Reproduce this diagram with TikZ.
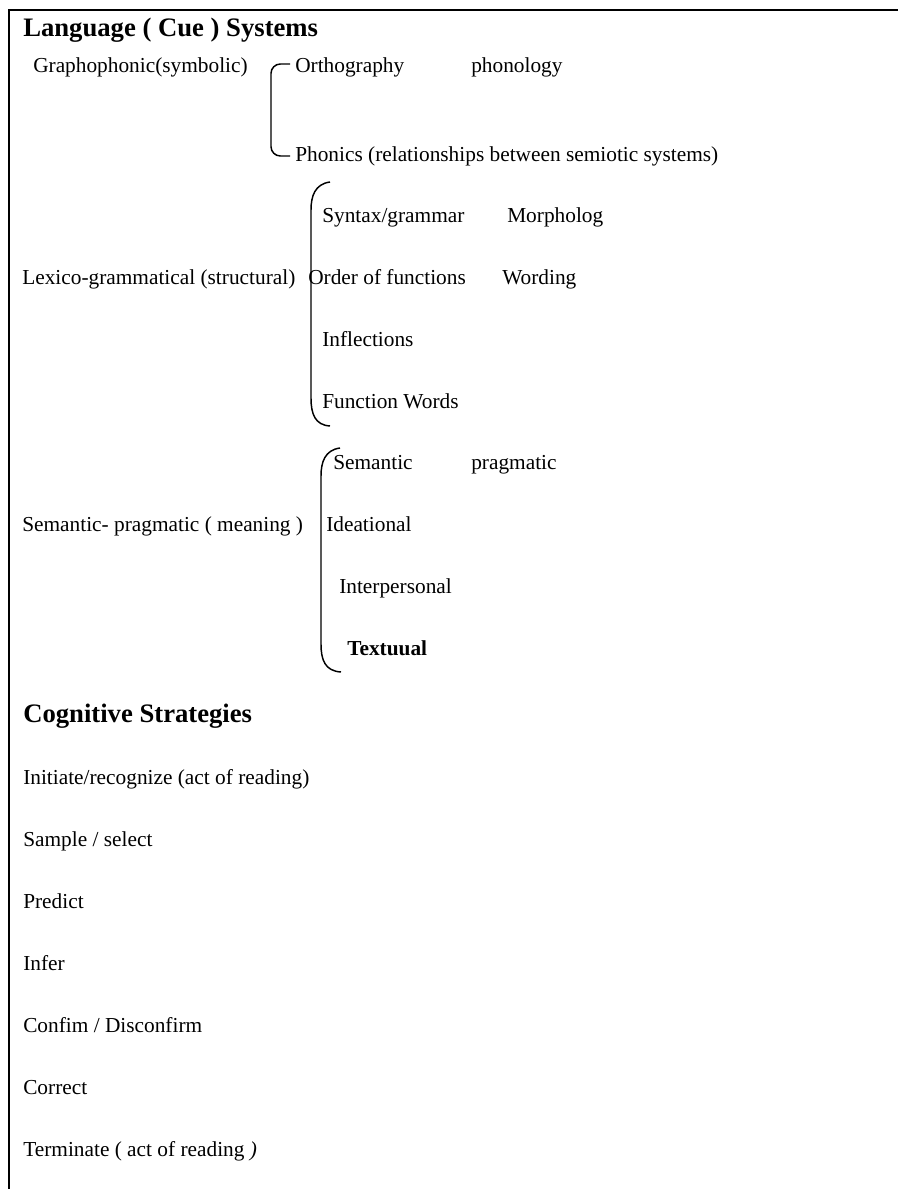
\documentclass[tikz,border=0pt]{standalone}
\usepackage{fontspec}
\setmainfont{Liberation Serif}
\begin{document}
\begin{tikzpicture}[x=0.75pt, y=-0.75pt,
    txt/.style={anchor=base west, inner sep=0pt, font=\fontsize{16}{19}\selectfont},
    head/.style={anchor=base west, inner sep=0pt, font=\fontsize{20}{24}\selectfont\bfseries},
    brace/.style={line width=1.1pt},
    frame/.style={line width=1.5pt}]

        \useasboundingbox (0,0) rectangle (898,1189);

        % Define the coordinates of the frame
        \coordinate (frameS) at (9,10);
        \coordinate (frameX) at (898,10);
        \coordinate (frameY) at (9,1189);

        \draw[frame] (frameX) -- (frameS) -- (frameY);

        % Headings
        \node[head] (lang) at (23,36) {Language ( Cue ) Systems};
        \node[head] (cog) at (23,722) {Cognitive Strategies};

        % Graphophonic
        \node[txt] (grapho) at (33,72) {Graphophonic(symbolic)};
        \node[txt] (ortho) at (295,72) {Orthography};
        \node[txt] (phono) at (471,72) {phonology};
        \node[txt] (phonics) at (295,161) {Phonics (relationships between semiotic systems)};

        % Lexico-grammatical
        \node[txt] (syntax) at (322,222) {Syntax/grammar};
        \node[txt] (morph) at (507,222) {Morpholog};
        \node[txt] (lexico) at (22,284) {Lexico-grammatical (structural)};
        \node[txt] (order) at (308,284) {Order of functions};
        \node[txt] (wording) at (502,284) {Wording};
        \node[txt] (inflect) at (322,346) {Inflections};
        \node[txt] (funcw) at (322,408) {Function Words};

        % Semantic-pragmatic
        \node[txt] (sem) at (333,469) {Semantic};
        \node[txt] (prag) at (471,469) {pragmatic};
        \node[txt] (meaning) at (22,531) {Semantic- pragmatic ( meaning )};
        \node[txt] (idea) at (326,531) {Ideational};
        \node[txt] (inter) at (339,593) {Interpersonal};
        \node[txt, font=\fontsize{16}{19}\selectfont\bfseries] (textual) at (347,655) {Textuual};

        % Cognitive strategies
        \node[txt] (init) at (23,784) {Initiate/recognize (act of reading)};
        \node[txt] (sample) at (23,846) {Sample / select};
        \node[txt] (predict) at (23,908) {Predict};
        \node[txt] (infer) at (23,970) {Infer};
        \node[txt] (confirm) at (23,1032) {Confim / Disconfirm};
        \node[txt] (correct) at (23,1094) {Correct};
        \node[txt] (term) at (23,1156) {Terminate ( act of reading \textit{)}};

        % Brace ends
        \coordinate (B1top) at (290,64);
        \coordinate (B1bot) at (290,156);
        \coordinate (B2top) at (330,182);
        \coordinate (B2bot) at (330,426);
        \coordinate (B3top) at (340,448);
        \coordinate (B3bot) at (341,672);

        % Draw the braces
        \draw[brace, rounded corners=7] (B1top) -- (271,64) -- (271,156) -- (B1bot);
        \draw[brace] (B2top) .. controls (315,184) and (311,196) .. (311,210)
            -- (311,398) .. controls (311,414) and (315,425) .. (B2bot);
        \draw[brace] (B3top) .. controls (325,450) and (321,462) .. (321,476)
            -- (321,644) .. controls (321,660) and (325,671) .. (B3bot);

    \end{tikzpicture}
\end{document}
